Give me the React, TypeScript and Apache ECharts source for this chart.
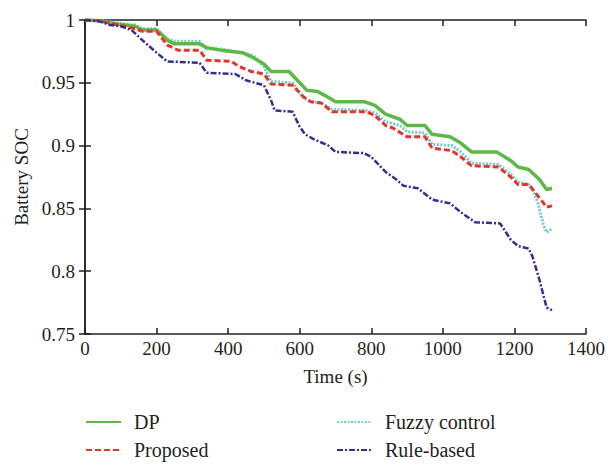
import React, { useEffect, useRef } from "react";
import * as echarts from "echarts";

const xTicks = [0, 200, 400, 600, 800, 1000, 1200, 1400];
const yTicks = [0.75, 0.8, 0.85, 0.9, 0.95, 1];

const dpT = [0, 40, 80, 110, 140, 160, 200, 230, 250, 320, 340, 380, 440, 470, 500, 520, 570, 600, 620, 650, 670, 700, 780, 810, 840, 880, 900, 950, 970, 1020, 1050, 1080, 1150, 1190, 1210, 1240, 1270, 1290, 1305];
const dpV = [1.0, 0.9995, 0.997, 0.996, 0.995, 0.992, 0.992, 0.984, 0.981, 0.981, 0.978, 0.976, 0.974, 0.97, 0.965, 0.959, 0.959, 0.95, 0.944, 0.943, 0.94, 0.935, 0.935, 0.932, 0.925, 0.921, 0.916, 0.916, 0.909, 0.907, 0.902, 0.895, 0.895, 0.888, 0.883, 0.881, 0.873, 0.865, 0.866];

const propT = [0, 40, 80, 110, 140, 160, 200, 230, 260, 320, 340, 410, 430, 465, 500, 520, 580, 610, 630, 660, 690, 785, 810, 840, 860, 900, 950, 970, 1025, 1050, 1080, 1155, 1190, 1210, 1240, 1260, 1290, 1305];
const propV = [1.0, 0.9995, 0.997, 0.995, 0.993, 0.991, 0.991, 0.98, 0.976, 0.976, 0.968, 0.967, 0.963, 0.959, 0.957, 0.949, 0.948, 0.939, 0.935, 0.934, 0.927, 0.927, 0.924, 0.916, 0.914, 0.907, 0.907, 0.898, 0.896, 0.891, 0.884, 0.883, 0.875, 0.869, 0.869, 0.862, 0.851, 0.852];

const fuzzyT = [0, 40, 80, 110, 140, 160, 200, 230, 250, 320, 340, 380, 420, 470, 500, 520, 580, 610, 630, 660, 690, 785, 810, 840, 880, 900, 950, 970, 1025, 1050, 1080, 1155, 1190, 1210, 1240, 1250, 1265, 1280, 1290, 1305];
const fuzzyV = [1.0, 1.0, 0.998, 0.997, 0.996, 0.993, 0.993, 0.985, 0.983, 0.983, 0.977, 0.977, 0.975, 0.972, 0.963, 0.951, 0.95, 0.938, 0.935, 0.934, 0.929, 0.928, 0.926, 0.919, 0.916, 0.911, 0.91, 0.901, 0.9, 0.895, 0.886, 0.885, 0.877, 0.871, 0.869, 0.866, 0.855, 0.838, 0.831, 0.834];

const ruleT = [0, 40, 70, 100, 130, 160, 200, 230, 320, 340, 420, 450, 500, 520, 530, 580, 600, 615, 640, 680, 700, 780, 800, 840, 870, 890, 930, 970, 1020, 1050, 1090, 1160, 1190, 1210, 1240, 1250, 1270, 1290, 1305];
const ruleV = [1.0, 0.999, 0.996, 0.995, 0.992, 0.984, 0.974, 0.967, 0.966, 0.958, 0.957, 0.952, 0.948, 0.936, 0.928, 0.927, 0.915, 0.909, 0.905, 0.9, 0.895, 0.894, 0.891, 0.879, 0.873, 0.868, 0.866, 0.857, 0.854, 0.847, 0.839, 0.838, 0.825, 0.82, 0.818, 0.812, 0.793, 0.771, 0.769];

const seriesNames = ["DP", "Proposed", "Fuzzy control", "Rule-based"];

const zip = (t: number[], v: number[]) => t.map((x, i) => [x, v[i]]);

const FONT = "Liberation Serif";
const AX = "#231f20";

export default function App() {
  const ref = useRef<HTMLDivElement>(null);
  useEffect(() => {
    const chart = echarts.init(ref.current!, null, { renderer: "svg" });
    const axisCommon = {
      axisLine: { show: true, lineStyle: { color: AX, width: 1.5 } },
      axisTick: { show: true, inside: true, length: 6, lineStyle: { color: AX, width: 1.5 } },
      splitLine: { show: false },
    };
    const legendPos = [
      { left: 85, top: 412 },
      { left: 85, top: 440 },
      { left: 336, top: 412 },
      { left: 336, top: 440 },
    ];
    const legends = seriesNames.map((n, i) => ({
      orient: "vertical",
      left: legendPos[i].left,
      top: legendPos[i].top,
      padding: 0,
      itemWidth: 35,
      itemHeight: 14,
      data: [n],
      itemStyle: { opacity: 0 },
      textStyle: { color: AX, fontFamily: FONT, fontSize: 20, padding: [0, 0, 0, 8] },
    }));
    chart.setOption({
      animation: false,
      backgroundColor: "#fff",
      grid: { left: 85, right: 21, top: 20, bottom: 131 },
      xAxis: [
        {
          type: "value", min: 0, max: 1400, interval: 200, position: "bottom",
          ...axisCommon,
          axisLabel: { color: AX, fontFamily: FONT, fontSize: 19, margin: 5, formatter: (v: number) => String(v) },
          name: "Time (s)", nameLocation: "middle", nameGap: 33,
          nameTextStyle: { color: AX, fontFamily: FONT, fontSize: 19 },
        },
        {
          type: "value", min: 0, max: 1400, interval: 200, position: "top",
          ...axisCommon, axisLabel: { show: false },
        },
      ],
      yAxis: [
        {
          type: "value", min: 0.75, max: 1, interval: 0.05, position: "left",
          ...axisCommon,
          axisLabel: { color: AX, fontFamily: FONT, fontSize: 19, margin: 10 },
          name: "Battery SOC", nameLocation: "middle", nameGap: 54,
          nameTextStyle: { color: AX, fontFamily: FONT, fontSize: 19 },
        },
        {
          type: "value", min: 0.75, max: 1, interval: 0.05, position: "right",
          ...axisCommon, axisLabel: { show: false },
        },
      ],
      legend: legends,
      series: [
        {
          name: "DP", type: "line", symbol: "none", data: zip(dpT, dpV), z: 4,
          color: "#5cb947", lineStyle: { color: "#5cb947", width: 3.5, type: "solid" },
        },
        {
          name: "Fuzzy control", type: "line", symbol: "none", data: zip(fuzzyT, fuzzyV), z: 3,
          color: "#72cbcb", lineStyle: { color: "#72cbcb", width: 3, type: [2, 1.5] },
        },
        {
          name: "Proposed", type: "line", symbol: "none", data: zip(propT, propV), z: 5,
          color: "#e8332b", lineStyle: { color: "#e8332b", width: 3, type: [6, 3] },
        },
        {
          name: "Rule-based", type: "line", symbol: "none", data: zip(ruleT, ruleV), z: 6,
          color: "#332e91", lineStyle: { color: "#332e91", width: 2.5, type: [6, 2, 2, 2] },
        },
      ],
    });
    return () => chart.dispose();
  }, []);
  return <div ref={ref} style={{ width: 608, height: 465, position: "absolute", left: 0, top: 0 }} />;
}
